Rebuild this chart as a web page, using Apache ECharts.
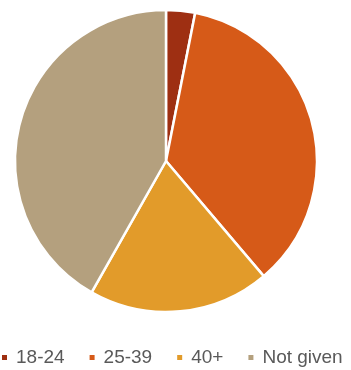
<!DOCTYPE html>
<html>
<head>
<meta charset="utf-8">
<script src="https://cdn.jsdelivr.net/npm/echarts@6/dist/echarts.min.js"></script>
<style>
  html, body { margin: 0; padding: 0; background: #fff; }
  #chart { width: 351px; height: 370px; }
</style>
</head>
<body>
<div id="chart"></div>
<script>
var categories = ['18-24', '25-39', '40+', 'Not given'];
var shares = [3.1, 35.7, 19.4, 41.8];
var colors = ['#9e2f12', '#d65a18', '#e29b2a', '#b4a07e'];

var chart = echarts.init(document.getElementById('chart'));

var pieData = [];
for (var i = 0; i < categories.length; i++) {
    pieData.push({ name: categories[i], value: shares[i], itemStyle: { color: colors[i] } });
}

var option = {
    animation: false,
    legend: {
        data: categories,
        left: 0,
        top: 347,
        padding: 0,
        icon: 'rect',
        itemWidth: 7,
        itemHeight: 7,
        itemGap: 23,
        textStyle: {
            color: '#595959',
            fontSize: 19,
            lineHeight: 21,
            padding: [0, 0, 0, 3],
            fontFamily: 'Liberation Sans'
        }
    },
    series: [
        {
            type: 'pie',
            center: [166, 161],
            radius: 151,
            startAngle: 90,
            clockwise: true,
            label: { show: false },
            labelLine: { show: false },
            itemStyle: { borderColor: '#fff', borderWidth: 2.5 },
            data: pieData
        }
    ]
};

chart.setOption(option);
</script>
</body>
</html>
